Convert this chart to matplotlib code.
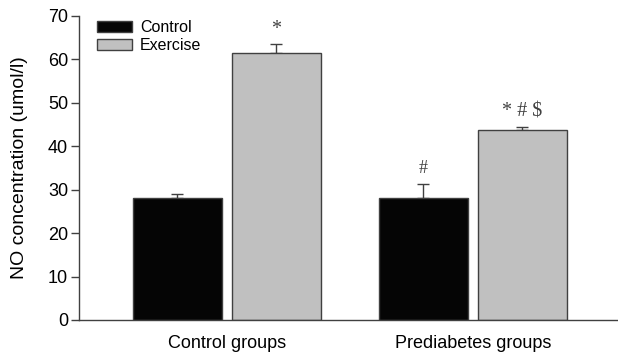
import matplotlib
matplotlib.use("Agg")
import matplotlib.pyplot as plt
import numpy as np

plt.rcParams['font.family'] = ['Liberation Sans', 'DejaVu Sans']

groups = ["Control groups", "Prediabetes groups"]
series_names = ["Control", "Exercise"]
control_vals = [28.0, 28.0]
control_err = [0.9, 3.4]
exercise_vals = [61.4, 43.6]
exercise_err = [2.0, 0.8]
annot_control = ["", "#"]
annot_exercise = ["*", "* # $"]
yticks = [0, 10, 20, 30, 40, 50, 60, 70]

fig = plt.figure(figsize=(6.18, 3.53), dpi=100)
ax = fig.add_axes([0.128, 0.0935, 0.872, 0.862])

x = np.arange(len(groups))
w = 0.362
gap = 0.04
edge = '#404040'
xc = x - (w + gap) / 2
xe = x + (w + gap) / 2
ax.bar(xc, control_vals, w, color='#050505', edgecolor=edge, linewidth=1.0, label=series_names[0], zorder=2)
ax.bar(xe, exercise_vals, w, color='#c0c0c0', edgecolor=edge, linewidth=1.0, label=series_names[1], zorder=2)
ax.errorbar(xc, control_vals, yerr=[np.zeros(2), control_err], fmt='none', ecolor=edge, elinewidth=1.0, capsize=4, capthick=1.0, zorder=1)
ax.errorbar(xe, exercise_vals, yerr=[np.zeros(2), exercise_err], fmt='none', ecolor=edge, elinewidth=1.0, capsize=4, capthick=1.0, zorder=1)

off = 3.4
for xi, v, e, t in zip(xc, control_vals, control_err, annot_control):
    if t:
        ax.text(xi, v + e + off, t, ha='center', va='center', family=['Liberation Serif'], fontsize=13, color='#404040')
for xi, v, e, t in zip(xe, exercise_vals, exercise_err, annot_exercise):
    ax.text(xi, v + e + off, t, ha='center', va='center', family=['Liberation Serif'], fontsize=14.5, color='#404040')

ax.set_xlim(-0.60, 1.59)
ax.set_ylim(0, 70)
ax.set_yticks(yticks)
ax.set_xticks(x)
ax.set_xticklabels(groups, fontsize=13)
ax.tick_params(axis='x', length=0, pad=11)
ax.tick_params(axis='y', direction='out', length=6, width=1.0, color='#404040', labelsize=13, pad=2)
ax.set_ylabel("NO concentration (umol/l)", fontsize=14)
ax.yaxis.set_label_coords(-0.095, 0.5)
for s in ['top', 'right']:
    ax.spines[s].set_visible(False)
for s in ['left', 'bottom']:
    ax.spines[s].set_color('#404040')
    ax.spines[s].set_linewidth(1.0)

ax.legend(loc='upper left', bbox_to_anchor=(0.0334, 0.985), borderaxespad=0, borderpad=0,
          frameon=False, fontsize=11.5,
          handlelength=2.2, handleheight=0.7, handletextpad=0.5, labelspacing=0.2)

fig.savefig("out.png", dpi=100)
